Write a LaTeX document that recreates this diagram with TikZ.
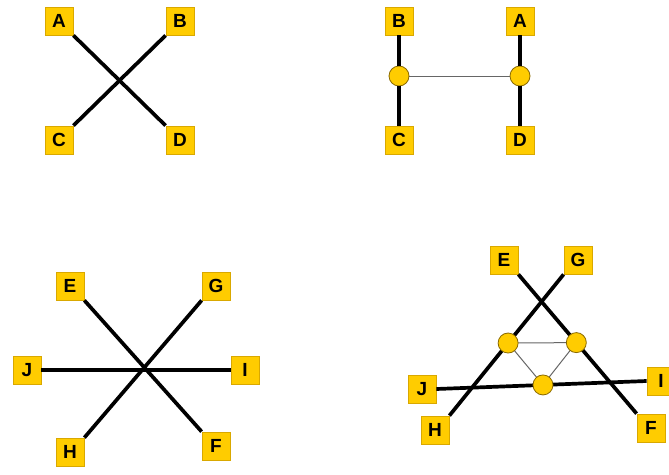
\documentclass[tikz,border=0pt]{standalone}
\usepackage{fontspec}
\setmainfont{Liberation Sans}
\usetikzlibrary{calc}
\definecolor{gold}{HTML}{FFCC00}
\definecolor{goldedge}{HTML}{D9A800}
\definecolor{dotedge}{HTML}{8A6A00}
\tikzset{
  lbl/.style={draw=goldedge, line width=0.8pt, fill=gold, minimum size=28pt,
              inner sep=0pt, font=\fontsize{19}{19}\selectfont\bfseries, text=black},
  wire/.style={line width=3.7pt, black},
  link/.style={line width=1pt, black!60},
  dot/.style={circle, draw=dotedge, line width=0.8pt, fill=gold,
              minimum size=20pt, inner sep=0pt},
}
\begin{document}
\begin{tikzpicture}[x=1pt, y=-1pt]
\useasboundingbox (0,0) rectangle (669,474);
\clip (0,0) rectangle (669,474);
\fill[white] (0,0) rectangle (669,474);

% --- top left: simple crossing ---
\node[lbl] (A1) at (59,21) {A};
\node[lbl] (B1) at (180,21) {B};
\node[lbl] (C1) at (59,140) {C};
\node[lbl] (D1) at (180,140) {D};
\draw[wire] (A1.south east) -- (D1.north west);
\draw[wire] (B1.south west) -- (C1.north east);

% --- top right: crossing resolved into two junctions ---
\node[lbl] (B2) at (399,21) {B};
\node[lbl] (A2) at (520,21) {A};
\node[lbl] (C2) at (399,140) {C};
\node[lbl] (D2) at (520,140) {D};
\node[dot] (p) at (399,76) {};
\node[dot] (q) at (520,76) {};
\draw[wire] (B2.south) -- (p.north);
\draw[wire] (p.south) -- (C2.north);
\draw[wire] (A2.south) -- (q.north);
\draw[wire] (q.south) -- (D2.north);
\draw[link] (p.east) -- (q.west);

% --- bottom left: triple crossing ---
\node[lbl] (E3) at (70,286) {E};
\node[lbl] (G3) at (216,286) {G};
\node[lbl] (J3) at (27,370) {J};
\node[lbl] (I3) at (245,370) {I};
\node[lbl] (H3) at (70,452) {H};
\node[lbl] (F3) at (216,446) {F};
\draw[wire] (E3.south east) -- (F3.north west);
\draw[wire] (G3.south west) -- (H3.north east);
\draw[wire] (J3.east) -- (I3.west);

% --- bottom right: triple crossing with three junctions ---
\node[lbl] (E4) at (504,260) {E};
\node[lbl] (G4) at (578,260) {G};
\node[lbl] (J4) at (422,389) {J};
\node[lbl] (I4) at (661,381) {I};
\node[lbl] (H4) at (435,430) {H};
\node[lbl] (F4) at (651,428) {F};
\coordinate (rc) at ($(E4.south east)!0.49!(F4.north west)$);
\coordinate (lc) at ($(G4.south west)!0.486!(H4.north east)$);
\coordinate (bc) at ($(J4.east)!0.507!(I4.west)$);
\draw[wire] (E4.south east) -- (F4.north west);
\draw[wire] (G4.south west) -- (H4.north east);
\draw[wire] (J4.east) -- (I4.west);
\draw[link] (lc) -- (rc) -- (bc) -- cycle;
\node[dot] (l) at (lc) {};
\node[dot] (r) at (rc) {};
\node[dot] (b) at (bc) {};
\end{tikzpicture}
\end{document}
